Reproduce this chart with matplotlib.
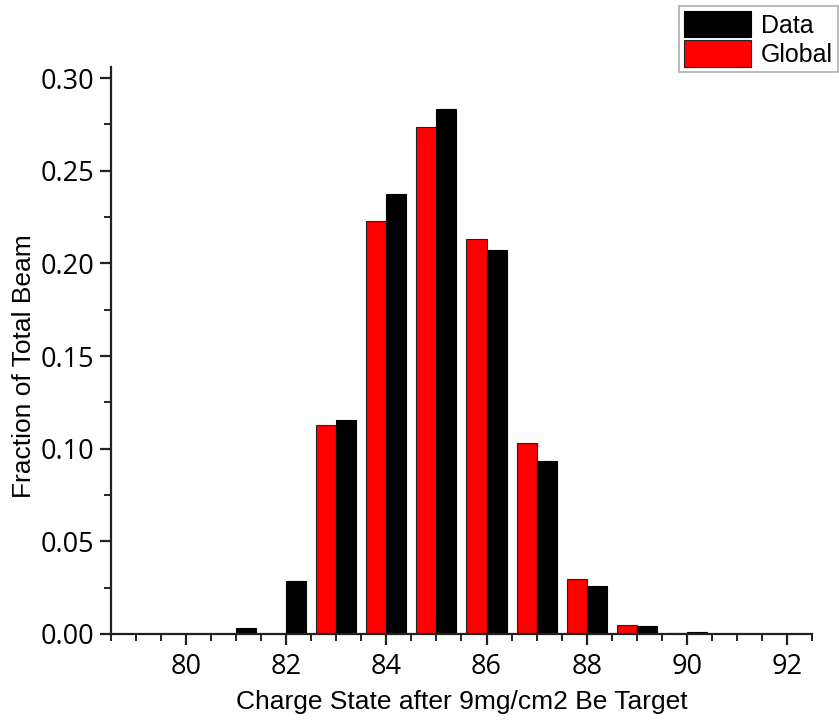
import numpy as np
import matplotlib
matplotlib.use("Agg")
import matplotlib.pyplot as plt
from matplotlib.ticker import MultipleLocator, FormatStrFormatter

# Charge-state distributions
charge_states = [81, 82, 83, 84, 85, 86, 87, 88, 89, 90]
data_fraction = [0.003, 0.0288, 0.1153, 0.2374, 0.2834, 0.2072, 0.0933, 0.0259, 0.0041, 0.0010]
global_fraction = [0.0, 0.0, 0.1128, 0.2227, 0.2734, 0.2130, 0.1029, 0.0297, 0.0049, 0.0005]

bar_width = 0.4

fig = plt.figure(figsize=(8.39, 7.21), dpi=100)
ax = fig.add_axes([0.1323, 0.1207, 0.8355, 0.7863])

x = np.array(charge_states, dtype=float)
ax.bar(x - bar_width, global_fraction, width=bar_width, align="edge",
       color="#ff0000", edgecolor="#222222", linewidth=0.8, label="Global")
ax.bar(x, data_fraction, width=bar_width, align="edge",
       color="black", edgecolor="black", linewidth=0.8, label="Data")

ax.set_xlim(78.5, 92.5)
ax.set_ylim(0, 0.306)

ax.spines["top"].set_visible(False)
ax.spines["right"].set_visible(False)
for side in ("left", "bottom"):
    ax.spines[side].set_linewidth(1.6)
    ax.spines[side].set_color("#222222")

ax.xaxis.set_major_locator(MultipleLocator(2))
ax.xaxis.set_minor_locator(MultipleLocator(0.5))
ax.yaxis.set_major_locator(MultipleLocator(0.05))
ax.yaxis.set_minor_locator(MultipleLocator(0.025))
ax.yaxis.set_major_formatter(FormatStrFormatter("%.2f"))

ax.tick_params(which="major", direction="out", length=8, width=1.6,
               color="#222222", labelsize=19.5, pad=4)
ax.tick_params(which="minor", direction="out", length=5, width=1.4,
               color="#222222")
ax.tick_params(axis="x", which="major", pad=6)
for lbl in ax.get_xticklabels() + ax.get_yticklabels():
    lbl.set_fontfamily("Open Sans")

ax.set_xlabel("Charge State after 9mg/cm2 Be Target", fontsize=19,
              fontfamily="Liberation Sans", labelpad=6)
ax.set_ylabel("Fraction of Total Beam", fontsize=19,
              fontfamily="Liberation Sans", labelpad=3)
ax.yaxis.label.set_y(0.473)

handles, labels = ax.get_legend_handles_labels()
leg = fig.legend(handles[::-1], labels[::-1], loc="upper right",
                 bbox_to_anchor=(838 / 839, 1 - 6 / 721),
                 prop={"family": "Liberation Sans", "size": 18},
                 frameon=True, fancybox=False, edgecolor="#999999",
                 handlelength=2.7, handleheight=1.25, handletextpad=0.4,
                 labelspacing=0.1, borderpad=0.2, borderaxespad=0)
leg.get_frame().set_linewidth(1.2)

fig.savefig("out.png", dpi=100)
